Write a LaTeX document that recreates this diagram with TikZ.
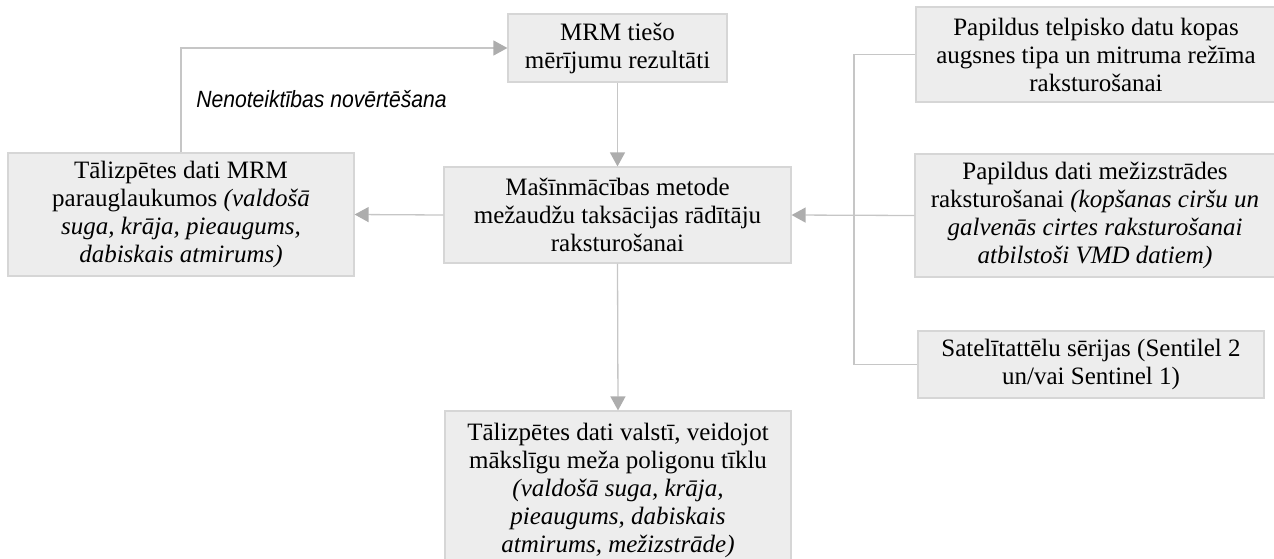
\documentclass[tikz,border=0pt]{standalone}
\usepackage{fontspec}
\setmainfont{Liberation Serif}
\newfontfamily\labelfont[FakeStretch=0.9]{Liberation Sans}
\usetikzlibrary{arrows.meta}
\definecolor{boxfill}{HTML}{EDEDED}
\definecolor{boxline}{HTML}{D6D6D6}
\definecolor{conn}{HTML}{C6C6C6}
\definecolor{tipc}{HTML}{ADADAD}
\begin{document}
\begin{tikzpicture}[x=1pt,y=-1pt,
  box/.style={draw=boxline, fill=boxfill, line width=1.2pt, inner sep=0pt,
    align=center, font=\fontsize{25}{28}\selectfont, text=black},
  ln/.style={draw=conn, line width=1.3pt},
  arr/.style={ln, -{Triangle[length=14pt,width=15pt,color=tipc]}},
  lbl/.style={font=\labelfont\itshape\fontsize{23.5}{27}\selectfont, inner sep=0pt, text=black}]
\useasboundingbox (0,0) rectangle (1274,558);
\node[box, minimum width=219pt, minimum height=68pt] (mrm) at (617.5,48)
  {MRM tiešo\\mērījumu rezultāti};
\node[box, minimum width=346pt, minimum height=123pt] (left) at (181,214.5)
  {Tālizpētes dati MRM\\parauglaukumos \textit{(valdošā}\\\textit{suga, krāja, pieaugums,}\\\textit{dabiskais atmirums)}};
\node[box, minimum width=347pt, minimum height=96pt] (ml) at (617.5,215)
  {Mašīnmācības metode\\mežaudžu taksācijas rādītāju\\raksturošanai};
\node[box, minimum width=360pt, minimum height=95pt] (r1) at (1096,54.5)
  {Papildus telpisko datu kopas\\augsnes tipa un mitruma režīma\\raksturošanai};
\node[box, minimum width=360pt, minimum height=123pt] (r2) at (1095,215.5)
  {Papildus dati mežizstrādes\\raksturošanai \textit{(kopšanas ciršu un}\\\textit{galvenās cirtes raksturošanai}\\\textit{atbilstoši VMD datiem)}};
\node[box, minimum width=346pt, minimum height=67pt] (r3) at (1091,364.5)
  {Satelītattēlu sērijas (Sentilel 2\\un/vai Sentinel 1)};
\node[box, minimum width=346pt, minimum height=158pt] (bot) at (618,490)
  {Tālizpētes dati valstī, veidojot\\mākslīgu meža poligonu tīklu\\\textit{(valdošā suga, krāja,}\\\textit{pieaugums, dabiskais}\\\textit{atmirums, mežizstrāde)}};
\node[lbl, anchor=base] (nl) at (321.5,107) {Nenoteiktības novērtēšana};
\coordinate (rb) at (854,215);
\draw[arr] (left.north) |- (mrm.west);
\draw[arr] (mrm.south) -- (ml.north);
\draw[arr] (ml.west) -- (left.east);
\draw[ln] (r1.west) -- (r1.west -| rb) -- (r3.west -| rb) -- (r3.west);
\draw[arr] (r2.west) -- (ml.east);
\draw[arr] (ml.south) -- (bot.north);
\end{tikzpicture}
\end{document}
